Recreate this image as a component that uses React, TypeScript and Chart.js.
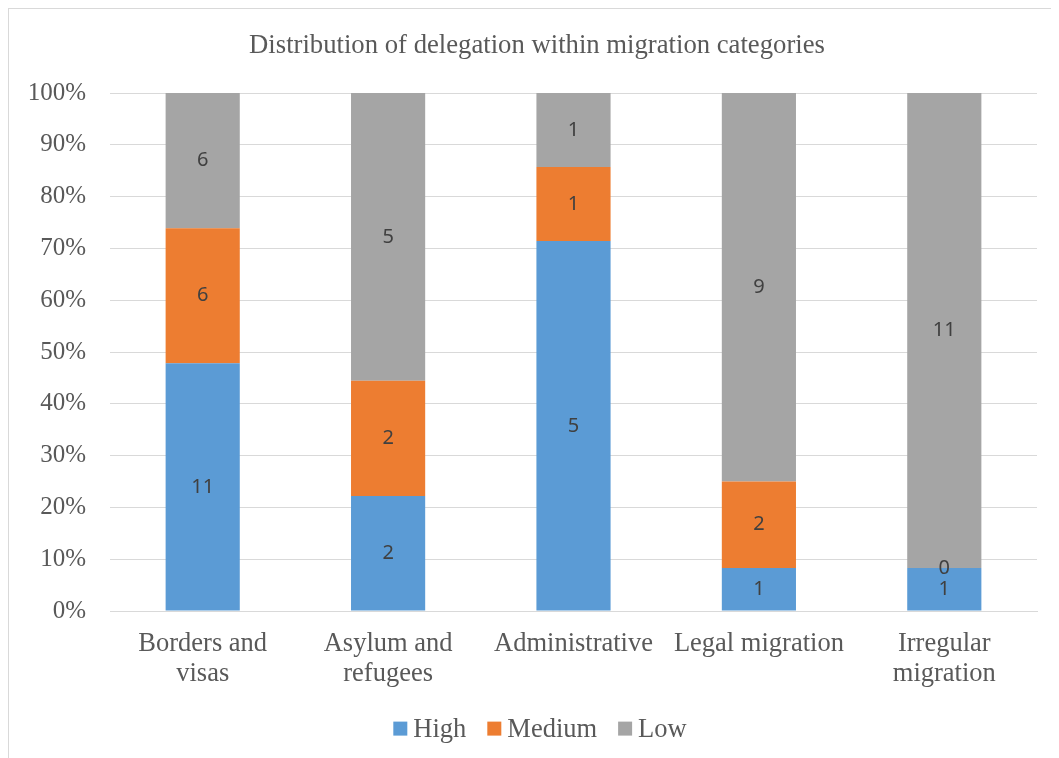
import React, { useEffect, useRef } from "react";
import { Chart, registerables } from "chart.js";

Chart.register(...registerables);

const categories: (string | string[])[] = [
  ["Borders and", "visas"],
  ["Asylum and", "refugees"],
  "Administrative",
  "Legal migration",
  ["Irregular", "migration"],
];
const highCounts = [11, 2, 5, 1, 1];
const mediumCounts = [6, 2, 1, 2, 0];
const lowCounts = [6, 5, 1, 9, 11];
const seriesNames = ["High", "Medium", "Low"];
const seriesColors = ["#5B9BD5", "#ED7D31", "#A5A5A5"];
const chartTitle = "Distribution of delegation within migration categories";

const SERIF = "'Liberation Serif', 'Times New Roman', serif";
const SANS = "'Noto Sans', 'Liberation Sans', sans-serif";
const TEXT = "#595959";

export default function App() {
  const ref = useRef<HTMLCanvasElement | null>(null);

  useEffect(() => {
    document.body.style.overflow = "hidden";
    document.documentElement.style.overflow = "hidden";
    const canvas = ref.current;
    if (!canvas) return;
    const counts = [highCounts, mediumCounts, lowCounts];
    const totals = highCounts.map((_, i) => highCounts[i] + mediumCounts[i] + lowCounts[i]);
    const pct = counts.map((arr) => arr.map((v, i) => (v / totals[i]) * 100));

    const labelPlugin = {
      id: "countLabels",
      afterDatasetsDraw(chart: any) {
        const ctx = chart.ctx;
        ctx.save();
        ctx.font = `20px ${SANS}`;
        ctx.fillStyle = "#404040";
        ctx.textAlign = "center";
        ctx.textBaseline = "middle";
        chart.data.datasets.forEach((ds: any, di: number) => {
          const meta = chart.getDatasetMeta(di);
          meta.data.forEach((el: any, i: number) => {
            const y = (el.y + el.base) / 2;
            ctx.fillText(String(counts[di][i]), el.x, y);
          });
        });
        ctx.restore();
      },
    };

    const titleLegendPlugin = {
      id: "titleAndLegend",
      afterDraw(chart: any) {
        const ctx = chart.ctx;
        ctx.save();
        // title
        ctx.font = `26.7px ${SERIF}`;
        ctx.fillStyle = TEXT;
        ctx.textAlign = "center";
        ctx.textBaseline = "middle";
        ctx.fillText(chartTitle, chart.width / 2, 37);
        // legend
        ctx.font = `26.5px ${SERIF}`;
        ctx.textAlign = "left";
        const box = 14;
        const gap = 6;
        const itemGap = 21;
        const widths = seriesNames.map((n) => box + gap + ctx.measureText(n).width);
        const total = widths.reduce((a, b) => a + b, 0) + itemGap * (seriesNames.length - 1);
        let x = chart.width / 2 - total / 2 + 3;
        const cy = chart.chartArea.bottom + 117.5;
        seriesNames.forEach((n, i) => {
          ctx.fillStyle = seriesColors[i];
          ctx.fillRect(x, cy - box / 2, box, box);
          ctx.fillStyle = TEXT;
          ctx.fillText(n, x + box + gap, cy + 1);
          x += widths[i] + itemGap;
        });
        ctx.restore();
      },
    };

    const chart = new Chart(canvas, {
      type: "bar",
      data: {
        labels: categories,
        datasets: seriesNames.map((name, di) => ({
          label: name,
          data: pct[di],
          backgroundColor: seriesColors[di],
          borderWidth: 0,
          barPercentage: 0.4,
          categoryPercentage: 1,
        })),
      },
      options: {
        animation: false,
        responsive: false,
        devicePixelRatio: 1,
        layout: { padding: { left: 0, right: 28, top: 84, bottom: 60 } },
        plugins: {
          title: { display: false },
          legend: { display: false },
          tooltip: { enabled: false },
        },
        scales: {
          x: {
            stacked: true,
            grid: { display: false, drawTicks: false },
            border: { display: true, color: "#D9D9D9" },
            ticks: {
              color: TEXT,
              font: { family: SERIF, size: 26.5, lineHeight: 1.13 },
              padding: 18,
              maxRotation: 0,
              autoSkip: false,
            },
          },
          y: {
            stacked: true,
            min: 0,
            max: 100,
            grid: { color: "#D9D9D9", drawTicks: false },
            border: { display: false },
            afterFit: (scale: any) => {
              scale.width = 101;
            },
            ticks: {
              stepSize: 10,
              color: TEXT,
              font: { family: SERIF, size: 25 },
              padding: 24,
              callback: (v: any) => `${v}%`,
            },
          },
        },
      },
      plugins: [labelPlugin, titleLegendPlugin],
    });
    return () => chart.destroy();
  }, []);

  return (
    <div
      style={{
        position: "relative",
        width: 1058,
        height: 760,
        border: "1px solid #D9D9D9",
        boxSizing: "border-box",
        background: "#fff",
      }}
    >
      <canvas ref={ref} width={1056} height={758} style={{ display: "block" }} />
    </div>
  );
}
